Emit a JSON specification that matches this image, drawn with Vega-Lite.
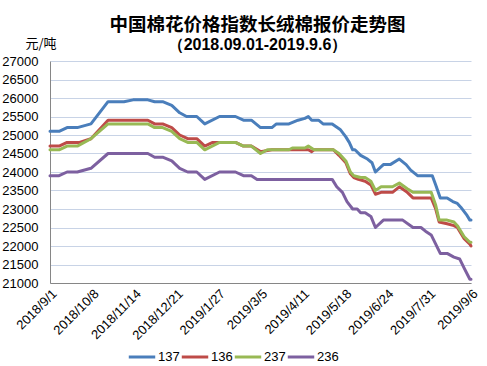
{
  "$schema": "https://vega.github.io/schema/vega-lite/v6.json",
  "width": 421,
  "height": 222,
  "autosize": {"type": "none"},
  "padding": {"left": 50, "top": 61, "right": 16, "bottom": 83},
  "background": "white",
  "config": {
    "view": {"stroke": null},
    "font": "Liberation Sans"
  },
  "title": {
    "text": "中国棉花价格指数长绒棉报价走势图",
    "subtitle": "（2018.09.01-2019.9.6）",
    "anchor": "middle",
    "dx": -3,
    "font": "Noto Sans CJK SC",
    "fontSize": 18.5,
    "fontWeight": "bold",
    "color": "#000000",
    "subtitleFont": "Liberation Sans",
    "subtitleFontSize": 16,
    "subtitleFontWeight": "bold",
    "subtitleColor": "#000000",
    "subtitlePadding": 3,
    "offset": -16
  },
  "data": {
    "values": [
      {"series": "137", "date": "2018-09-01", "price": 25100},
      {"series": "137", "date": "2018-09-09", "price": 25100},
      {"series": "137", "date": "2018-09-16", "price": 25200},
      {"series": "137", "date": "2018-09-25", "price": 25200},
      {"series": "137", "date": "2018-10-07", "price": 25300},
      {"series": "137", "date": "2018-10-22", "price": 25900},
      {"series": "137", "date": "2018-11-05", "price": 25900},
      {"series": "137", "date": "2018-11-13", "price": 25950},
      {"series": "137", "date": "2018-11-26", "price": 25950},
      {"series": "137", "date": "2018-12-02", "price": 25900},
      {"series": "137", "date": "2018-12-09", "price": 25900},
      {"series": "137", "date": "2018-12-17", "price": 25800},
      {"series": "137", "date": "2018-12-24", "price": 25600},
      {"series": "137", "date": "2018-12-30", "price": 25500},
      {"series": "137", "date": "2019-01-08", "price": 25500},
      {"series": "137", "date": "2019-01-15", "price": 25300},
      {"series": "137", "date": "2019-01-28", "price": 25500},
      {"series": "137", "date": "2019-02-11", "price": 25500},
      {"series": "137", "date": "2019-02-18", "price": 25400},
      {"series": "137", "date": "2019-02-25", "price": 25400},
      {"series": "137", "date": "2019-03-05", "price": 25200},
      {"series": "137", "date": "2019-03-15", "price": 25200},
      {"series": "137", "date": "2019-03-19", "price": 25300},
      {"series": "137", "date": "2019-03-30", "price": 25300},
      {"series": "137", "date": "2019-04-07", "price": 25400},
      {"series": "137", "date": "2019-04-13", "price": 25450},
      {"series": "137", "date": "2019-04-16", "price": 25500},
      {"series": "137", "date": "2019-04-19", "price": 25400},
      {"series": "137", "date": "2019-04-25", "price": 25400},
      {"series": "137", "date": "2019-04-29", "price": 25300},
      {"series": "137", "date": "2019-05-07", "price": 25300},
      {"series": "137", "date": "2019-05-14", "price": 25150},
      {"series": "137", "date": "2019-05-19", "price": 24950},
      {"series": "137", "date": "2019-05-22", "price": 24800},
      {"series": "137", "date": "2019-05-25", "price": 24600},
      {"series": "137", "date": "2019-05-27", "price": 24600},
      {"series": "137", "date": "2019-06-01", "price": 24450},
      {"series": "137", "date": "2019-06-07", "price": 24350},
      {"series": "137", "date": "2019-06-11", "price": 24250},
      {"series": "137", "date": "2019-06-14", "price": 24000},
      {"series": "137", "date": "2019-06-21", "price": 24200},
      {"series": "137", "date": "2019-06-27", "price": 24200},
      {"series": "137", "date": "2019-07-05", "price": 24350},
      {"series": "137", "date": "2019-07-11", "price": 24200},
      {"series": "137", "date": "2019-07-15", "price": 24050},
      {"series": "137", "date": "2019-07-21", "price": 23900},
      {"series": "137", "date": "2019-08-03", "price": 23900},
      {"series": "137", "date": "2019-08-06", "price": 23650},
      {"series": "137", "date": "2019-08-10", "price": 23300},
      {"series": "137", "date": "2019-08-16", "price": 23300},
      {"series": "137", "date": "2019-08-21", "price": 23200},
      {"series": "137", "date": "2019-08-25", "price": 23150},
      {"series": "137", "date": "2019-08-28", "price": 23050},
      {"series": "137", "date": "2019-09-02", "price": 22850},
      {"series": "137", "date": "2019-09-05", "price": 22700},
      {"series": "137", "date": "2019-09-06", "price": 22700},

      {"series": "136", "date": "2018-09-01", "price": 24700},
      {"series": "136", "date": "2018-09-09", "price": 24700},
      {"series": "136", "date": "2018-09-16", "price": 24800},
      {"series": "136", "date": "2018-09-27", "price": 24800},
      {"series": "136", "date": "2018-10-07", "price": 24900},
      {"series": "136", "date": "2018-10-22", "price": 25400},
      {"series": "136", "date": "2018-11-26", "price": 25400},
      {"series": "136", "date": "2018-12-02", "price": 25300},
      {"series": "136", "date": "2018-12-09", "price": 25300},
      {"series": "136", "date": "2018-12-17", "price": 25200},
      {"series": "136", "date": "2018-12-24", "price": 25000},
      {"series": "136", "date": "2018-12-31", "price": 24900},
      {"series": "136", "date": "2019-01-08", "price": 24900},
      {"series": "136", "date": "2019-01-15", "price": 24700},
      {"series": "136", "date": "2019-01-22", "price": 24800},
      {"series": "136", "date": "2019-02-11", "price": 24800},
      {"series": "136", "date": "2019-02-18", "price": 24700},
      {"series": "136", "date": "2019-02-25", "price": 24700},
      {"series": "136", "date": "2019-03-05", "price": 24550},
      {"series": "136", "date": "2019-03-15", "price": 24600},
      {"series": "136", "date": "2019-04-16", "price": 24600},
      {"series": "136", "date": "2019-04-19", "price": 24550},
      {"series": "136", "date": "2019-04-21", "price": 24600},
      {"series": "136", "date": "2019-05-08", "price": 24600},
      {"series": "136", "date": "2019-05-13", "price": 24450},
      {"series": "136", "date": "2019-05-19", "price": 24250},
      {"series": "136", "date": "2019-05-23", "price": 23950},
      {"series": "136", "date": "2019-05-26", "price": 23850},
      {"series": "136", "date": "2019-05-30", "price": 23800},
      {"series": "136", "date": "2019-06-05", "price": 23750},
      {"series": "136", "date": "2019-06-10", "price": 23650},
      {"series": "136", "date": "2019-06-14", "price": 23400},
      {"series": "136", "date": "2019-06-19", "price": 23450},
      {"series": "136", "date": "2019-06-29", "price": 23450},
      {"series": "136", "date": "2019-07-05", "price": 23600},
      {"series": "136", "date": "2019-07-12", "price": 23450},
      {"series": "136", "date": "2019-07-17", "price": 23300},
      {"series": "136", "date": "2019-08-02", "price": 23300},
      {"series": "136", "date": "2019-08-06", "price": 23000},
      {"series": "136", "date": "2019-08-09", "price": 22650},
      {"series": "136", "date": "2019-08-16", "price": 22600},
      {"series": "136", "date": "2019-08-22", "price": 22550},
      {"series": "136", "date": "2019-08-25", "price": 22500},
      {"series": "136", "date": "2019-08-31", "price": 22200},
      {"series": "136", "date": "2019-09-05", "price": 22050},
      {"series": "136", "date": "2019-09-06", "price": 22000},

      {"series": "237", "date": "2018-09-01", "price": 24600},
      {"series": "237", "date": "2018-09-09", "price": 24600},
      {"series": "237", "date": "2018-09-16", "price": 24700},
      {"series": "237", "date": "2018-09-25", "price": 24700},
      {"series": "237", "date": "2018-10-07", "price": 24900},
      {"series": "237", "date": "2018-10-22", "price": 25300},
      {"series": "237", "date": "2018-11-26", "price": 25300},
      {"series": "237", "date": "2018-12-02", "price": 25200},
      {"series": "237", "date": "2018-12-09", "price": 25200},
      {"series": "237", "date": "2018-12-17", "price": 25100},
      {"series": "237", "date": "2018-12-24", "price": 24900},
      {"series": "237", "date": "2018-12-31", "price": 24800},
      {"series": "237", "date": "2019-01-08", "price": 24800},
      {"series": "237", "date": "2019-01-15", "price": 24600},
      {"series": "237", "date": "2019-01-28", "price": 24800},
      {"series": "237", "date": "2019-02-11", "price": 24800},
      {"series": "237", "date": "2019-02-18", "price": 24700},
      {"series": "237", "date": "2019-02-25", "price": 24700},
      {"series": "237", "date": "2019-03-05", "price": 24500},
      {"series": "237", "date": "2019-03-11", "price": 24600},
      {"series": "237", "date": "2019-03-30", "price": 24600},
      {"series": "237", "date": "2019-04-02", "price": 24650},
      {"series": "237", "date": "2019-04-13", "price": 24650},
      {"series": "237", "date": "2019-04-16", "price": 24700},
      {"series": "237", "date": "2019-04-21", "price": 24600},
      {"series": "237", "date": "2019-05-08", "price": 24600},
      {"series": "237", "date": "2019-05-13", "price": 24500},
      {"series": "237", "date": "2019-05-19", "price": 24300},
      {"series": "237", "date": "2019-05-23", "price": 24000},
      {"series": "237", "date": "2019-05-26", "price": 23900},
      {"series": "237", "date": "2019-06-01", "price": 23850},
      {"series": "237", "date": "2019-06-05", "price": 23850},
      {"series": "237", "date": "2019-06-10", "price": 23750},
      {"series": "237", "date": "2019-06-14", "price": 23500},
      {"series": "237", "date": "2019-06-19", "price": 23600},
      {"series": "237", "date": "2019-06-29", "price": 23600},
      {"series": "237", "date": "2019-07-05", "price": 23700},
      {"series": "237", "date": "2019-07-12", "price": 23550},
      {"series": "237", "date": "2019-07-17", "price": 23450},
      {"series": "237", "date": "2019-08-02", "price": 23450},
      {"series": "237", "date": "2019-08-06", "price": 23100},
      {"series": "237", "date": "2019-08-09", "price": 22700},
      {"series": "237", "date": "2019-08-16", "price": 22700},
      {"series": "237", "date": "2019-08-22", "price": 22650},
      {"series": "237", "date": "2019-08-25", "price": 22550},
      {"series": "237", "date": "2019-08-31", "price": 22250},
      {"series": "237", "date": "2019-09-05", "price": 22100},
      {"series": "237", "date": "2019-09-06", "price": 22100},

      {"series": "236", "date": "2018-09-01", "price": 23900},
      {"series": "236", "date": "2018-09-09", "price": 23900},
      {"series": "236", "date": "2018-09-16", "price": 24000},
      {"series": "236", "date": "2018-09-25", "price": 24000},
      {"series": "236", "date": "2018-10-07", "price": 24100},
      {"series": "236", "date": "2018-10-22", "price": 24500},
      {"series": "236", "date": "2018-11-26", "price": 24500},
      {"series": "236", "date": "2018-12-02", "price": 24400},
      {"series": "236", "date": "2018-12-09", "price": 24400},
      {"series": "236", "date": "2018-12-17", "price": 24300},
      {"series": "236", "date": "2018-12-24", "price": 24100},
      {"series": "236", "date": "2018-12-31", "price": 24000},
      {"series": "236", "date": "2019-01-08", "price": 24000},
      {"series": "236", "date": "2019-01-15", "price": 23800},
      {"series": "236", "date": "2019-01-28", "price": 24000},
      {"series": "236", "date": "2019-02-11", "price": 24000},
      {"series": "236", "date": "2019-02-18", "price": 23900},
      {"series": "236", "date": "2019-02-25", "price": 23900},
      {"series": "236", "date": "2019-03-02", "price": 23800},
      {"series": "236", "date": "2019-05-07", "price": 23800},
      {"series": "236", "date": "2019-05-11", "price": 23600},
      {"series": "236", "date": "2019-05-16", "price": 23450},
      {"series": "236", "date": "2019-05-20", "price": 23200},
      {"series": "236", "date": "2019-05-25", "price": 23000},
      {"series": "236", "date": "2019-05-29", "price": 23000},
      {"series": "236", "date": "2019-06-01", "price": 22900},
      {"series": "236", "date": "2019-06-05", "price": 22900},
      {"series": "236", "date": "2019-06-10", "price": 22800},
      {"series": "236", "date": "2019-06-14", "price": 22500},
      {"series": "236", "date": "2019-06-21", "price": 22700},
      {"series": "236", "date": "2019-07-08", "price": 22700},
      {"series": "236", "date": "2019-07-17", "price": 22500},
      {"series": "236", "date": "2019-07-24", "price": 22500},
      {"series": "236", "date": "2019-07-28", "price": 22400},
      {"series": "236", "date": "2019-08-02", "price": 22300},
      {"series": "236", "date": "2019-08-06", "price": 22050},
      {"series": "236", "date": "2019-08-10", "price": 21800},
      {"series": "236", "date": "2019-08-16", "price": 21800},
      {"series": "236", "date": "2019-08-22", "price": 21700},
      {"series": "236", "date": "2019-08-27", "price": 21650},
      {"series": "236", "date": "2019-08-31", "price": 21400},
      {"series": "236", "date": "2019-09-05", "price": 21100},
      {"series": "236", "date": "2019-09-06", "price": 21100}
    ]
  },
  "mark": {"type": "line", "strokeWidth": 3, "strokeJoin": "round", "strokeCap": "round"},
  "encoding": {
    "x": {
      "field": "date",
      "type": "temporal",
      "timeUnit": "utcyearmonthdate",
      "scale": {
        "domain": [
          {"year": 2018, "month": 9, "date": 1, "utc": true},
          {"year": 2019, "month": 9, "date": 6, "utc": true}
        ]
      },
      "axis": {
        "title": null,
        "values": [
          {"year": 2018, "month": 9, "date": 1, "utc": true},
          {"year": 2018, "month": 10, "date": 8, "utc": true},
          {"year": 2018, "month": 11, "date": 14, "utc": true},
          {"year": 2018, "month": 12, "date": 21, "utc": true},
          {"year": 2019, "month": 1, "date": 27, "utc": true},
          {"year": 2019, "month": 3, "date": 5, "utc": true},
          {"year": 2019, "month": 4, "date": 11, "utc": true},
          {"year": 2019, "month": 5, "date": 18, "utc": true},
          {"year": 2019, "month": 6, "date": 24, "utc": true},
          {"year": 2019, "month": 7, "date": 31, "utc": true},
          {"year": 2019, "month": 9, "date": 6, "utc": true}
        ],
        "format": "%Y/%-m/%-d",
        "labelAngle": -45,
        "labelFontSize": 13,
        "labelColor": "#000000",
        "labelPadding": 4,
        "labelOverlap": false,
        "labelBound": false,
        "labelFlush": false,
        "ticks": false,
        "grid": false,
        "domainColor": "#868686",
        "domainWidth": 1
      }
    },
    "y": {
      "field": "price",
      "type": "quantitative",
      "scale": {"domain": [21000, 27000], "nice": false, "zero": false},
      "axis": {
        "title": "元/吨",
        "titleAngle": 0,
        "titleAlign": "left",
        "titleBaseline": "middle",
        "titleX": -25,
        "titleY": -18,
        "titleFont": "Noto Sans CJK SC",
        "titleFontSize": 13,
        "titleFontWeight": "normal",
        "titleColor": "#000000",
        "values": [21000, 21500, 22000, 22500, 23000, 23500, 24000, 24500, 25000, 25500, 26000, 26500, 27000],
        "format": "d",
        "labelFontSize": 13,
        "labelColor": "#000000",
        "labelPadding": 12,
        "ticks": false,
        "grid": true,
        "gridColor": "#C8D3E6",
        "gridWidth": 1,
        "domainColor": "#868686",
        "domainWidth": 1
      }
    },
    "color": {
      "field": "series",
      "type": "nominal",
      "scale": {
        "domain": ["137", "136", "237", "236"],
        "range": ["#4A7EBB", "#BE4B48", "#98B954", "#7D60A0"]
      },
      "legend": {
        "title": null,
        "orient": "none",
        "direction": "horizontal",
        "legendX": 77,
        "legendY": 281,
        "symbolType": "stroke",
        "symbolSize": 700,
        "symbolStrokeWidth": 3,
        "labelFontSize": 13,
        "labelColor": "#000000",
        "labelOffset": 1,
        "columnPadding": -6
      }
    }
  }
}
